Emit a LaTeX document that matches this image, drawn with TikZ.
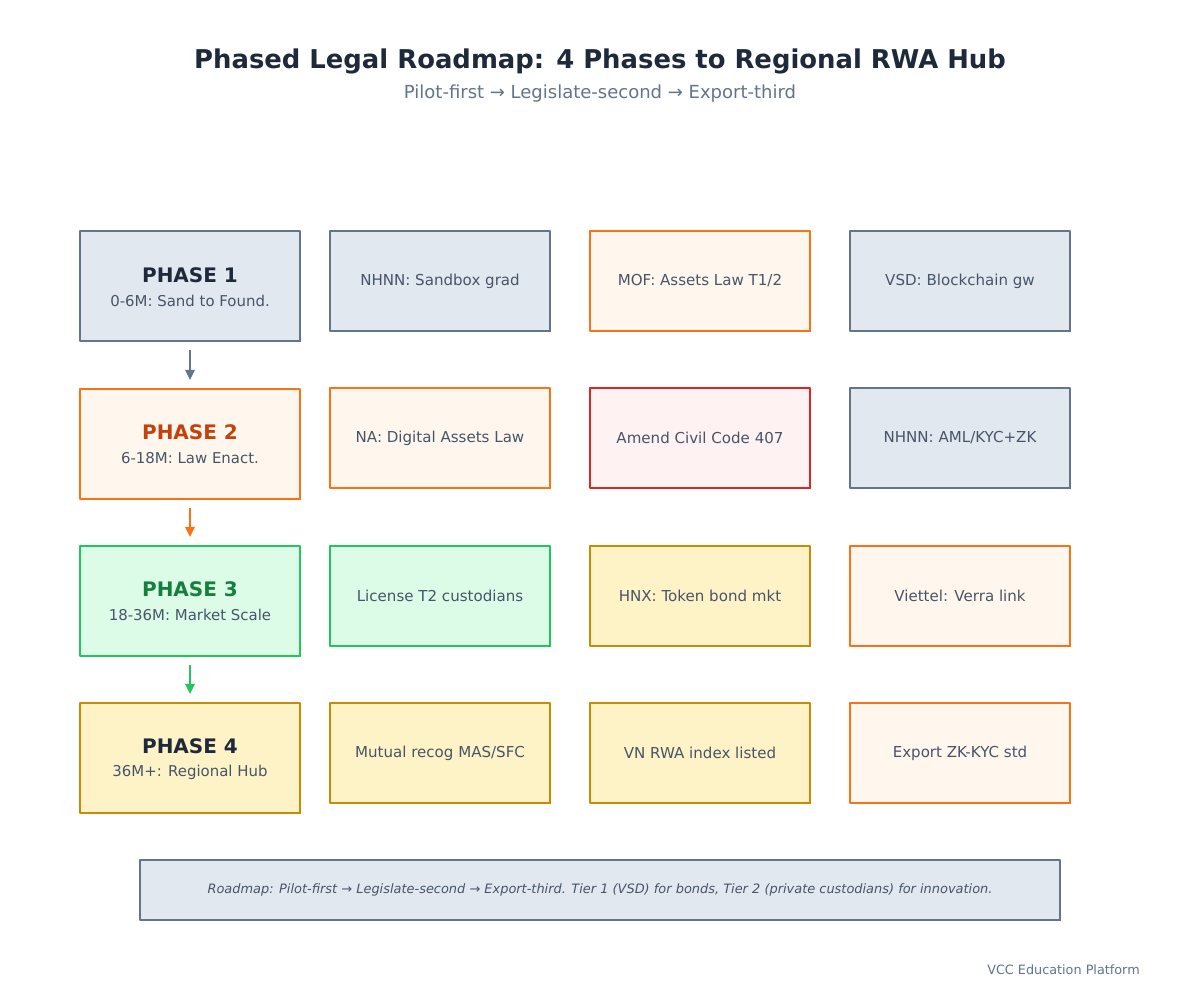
\documentclass[tikz,border=0pt]{standalone}
\usepackage{fontspec}
\setmainfont{DejaVu Sans}
\usetikzlibrary{arrows.meta}
\definecolor{ink}{HTML}{1E293B}
\definecolor{sub}{HTML}{475569}
\definecolor{muted}{HTML}{64748B}
\definecolor{slateF}{HTML}{E2E8F0}\definecolor{slateS}{HTML}{64748B}
\definecolor{orF}{HTML}{FFF7ED}\definecolor{orS}{HTML}{F97316}\definecolor{orT}{HTML}{C2410C}
\definecolor{grF}{HTML}{DCFCE7}\definecolor{grS}{HTML}{22C55E}\definecolor{grT}{HTML}{15803D}
\definecolor{yeF}{HTML}{FEF3C7}\definecolor{yeS}{HTML}{CA8A04}
\definecolor{reF}{HTML}{FEF2F2}\definecolor{reS}{HTML}{DC2626}
\tikzset{
  sk/.style={rectangle, inner sep=0pt, line width=1.6pt, line join=round,
    postaction={draw, line width=0.6pt, transform canvas={shift={(0.5pt,-0.5pt)}}}},
  slate/.style={sk, fill=slateF, draw=slateS},
  orange/.style={sk, fill=orF, draw=orS},
  green/.style={sk, fill=grF, draw=grS},
  yellow/.style={sk, fill=yeF, draw=yeS},
  red/.style={sk, fill=reF, draw=reS},
  phase/.style={minimum width=165pt, minimum height=82.5pt},
  cell/.style={minimum width=165pt, minimum height=75pt, text=sub, font=\fontsize{11.3}{14}\selectfont},
  ptitle/.style={font=\fontsize{15}{18}\selectfont\bfseries},
  psub/.style={text=sub, font=\fontsize{11.2}{14}\selectfont},
  conn/.style={line width=1.5pt, -{Triangle[length=7.5pt,width=7pt]}},
}
\begin{document}
\begin{tikzpicture}[x=0.75pt,y=-0.75pt]
\useasboundingbox[fill=white] (0,0) rectangle (1200,1000);
\node[text=ink, font=\fontsize{19.4}{23}\selectfont\bfseries] (title) at (600,61) {Phased Legal Roadmap: 4 Phases to Regional RWA Hub};
\node[text=muted, font=\fontsize{13.5}{16}\selectfont] (subtitle) at (600,94) {Pilot-first → Legislate-second → Export-third};

% Phase boxes
\node[slate, phase] (p1) at (190,286) {};
\node[ptitle, text=ink] (p1t) at (190,275) {PHASE 1};
\node[psub] (p1s) at (190,301) {0-6M: Sand to Found.};
\node[orange, phase] (p2) at (190,444) {};
\node[ptitle, text=orT] (p2t) at (190,432) {PHASE 2};
\node[psub] (p2s) at (190,458) {6-18M: Law Enact.};
\node[green, phase] (p3) at (190,601) {};
\node[ptitle, text=grT] (p3t) at (190,589) {PHASE 3};
\node[psub] (p3s) at (190,615) {18-36M: Market Scale};
\node[yellow, phase] (p4) at (190,758) {};
\node[ptitle, text=ink] (p4t) at (190,746) {PHASE 4};
\node[psub] (p4s) at (190,772) {36M+: Regional Hub};

% Row 1
\node[slate, cell] (a1) at (440,281) {NHNN: Sandbox grad};
\node[orange, cell] (a2) at (700,281) {MOF: Assets Law T1/2};
\node[slate, cell] (a3) at (960,281) {VSD: Blockchain gw};
% Row 2
\node[orange, cell] (b1) at (440,438) {NA: Digital Assets Law};
\node[red, cell] (b2) at (700,438) {Amend Civil Code 407};
\node[slate, cell] (b3) at (960,438) {NHNN: AML/KYC+ZK};
% Row 3
\node[green, cell] (c1) at (440,596) {License T2 custodians};
\node[yellow, cell] (c2) at (700,596) {HNX: Token bond mkt};
\node[orange, cell] (c3) at (960,596) {Viettel: Verra link};
% Row 4
\node[yellow, cell] (d1) at (440,753) {Mutual recog MAS/SFC};
\node[yellow, cell] (d2) at (700,753) {VN RWA index listed};
\node[orange, cell] (d3) at (960,753) {Export ZK-KYC std};

% Arrows
\draw[conn, slateS] ([yshift=-6pt]p1.south) -- ([yshift=6pt]p2.north);
\draw[conn, orS] ([yshift=-6pt]p2.south) -- ([yshift=6pt]p3.north);
\draw[conn, grS] ([yshift=-6pt]p3.south) -- ([yshift=6pt]p4.north);

% Footer note
\node[slate, minimum width=690pt, minimum height=45pt, text=sub, font=\fontsize{9.7}{12}\selectfont\itshape] (note) at (600,890) {Roadmap: Pilot-first → Legislate-second → Export-third. Tier 1 (VSD) for bonds, Tier 2 (private custodians) for innovation.};
\node[anchor=east, inner sep=0pt, text=muted, font=\fontsize{9.6}{12}\selectfont] (brand) at (1140,970) {VCC Education Platform};
\end{tikzpicture}
\end{document}
